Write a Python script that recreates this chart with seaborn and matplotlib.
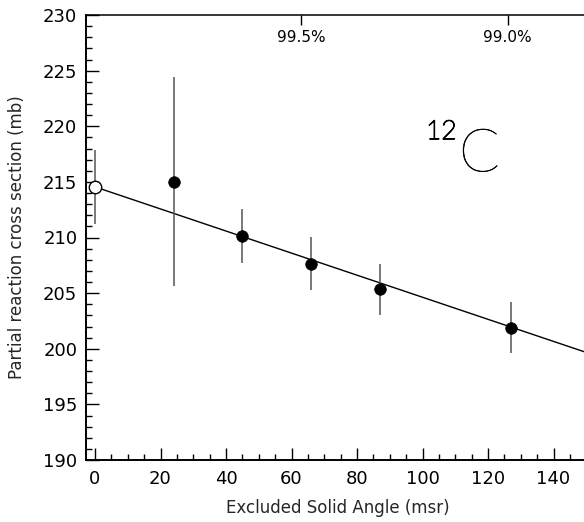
import matplotlib
matplotlib.use("Agg")
import matplotlib.pyplot as plt
import matplotlib.patheffects as pe
from matplotlib.ticker import MultipleLocator
import seaborn as sns
import pandas as pd

# ---- data ----
angle = [24, 45, 66, 87, 127]                  # excluded solid angle (msr)
sigma = [215.0, 210.15, 207.65, 205.35, 201.9]  # partial reaction cross section (mb)
sigma_err = [9.4, 2.4, 2.4, 2.3, 2.3]

extrap_angle = [0]
extrap_sigma = [214.55]
extrap_err = [3.3]

fit_angle = [0, 151]
fit_sigma = [214.55, 199.57]

top_tick_pos = [63, 126]
top_tick_labels = ["99.5%", "99.0%"]

x_ticks = [0, 20, 40, 60, 80, 100, 120, 140]
y_ticks = [190, 195, 200, 205, 210, 215, 220, 225, 230]

sns.set_style("ticks")
plt.rcParams["font.family"] = ["DejaVu Sans"]

df = pd.DataFrame({"angle": angle, "sigma": sigma, "err": sigma_err})
df_fit = pd.DataFrame({"angle": fit_angle, "sigma": fit_sigma})
df_ex = pd.DataFrame({"angle": extrap_angle, "sigma": extrap_sigma, "err": extrap_err})

W, H = 584, 522
fig = plt.figure(figsize=(W / 100, H / 100), dpi=100)
left_px, right_px, top_px, bot_px = 85.7, 590, 15, 460
ax = fig.add_axes([left_px / W, (H - bot_px) / H, (right_px - left_px) / W, (bot_px - top_px) / H])

# fit line
sns.lineplot(data=df_fit, x="angle", y="sigma", ax=ax, color="black", lw=1.0, zorder=2)

# error bars
ax.errorbar(df["angle"], df["sigma"], yerr=df["err"], fmt="none", ecolor="#555555",
            elinewidth=1.1, capsize=0, zorder=3)
ax.errorbar(df_ex["angle"], df_ex["sigma"], yerr=df_ex["err"], fmt="none", ecolor="#555555",
            elinewidth=1.1, capsize=0, zorder=3)

# points
sns.scatterplot(data=df, x="angle", y="sigma", ax=ax, color="black", s=70,
                edgecolor="black", linewidth=0.5, zorder=4)
sns.scatterplot(data=df_ex, x="angle", y="sigma", ax=ax, color="white", s=80,
                edgecolor="black", linewidth=1.0, zorder=4)

xmin = (left_px - 95) / 3.275
xmax = (right_px - 95) / 3.275
ax.set_xlim(xmin, xmax)
ax.set_ylim(190, 230)
ax.set_xticks(x_ticks)
ax.set_yticks(y_ticks)
ax.xaxis.set_minor_locator(MultipleLocator(5))
ax.yaxis.set_minor_locator(MultipleLocator(1))
ax.tick_params(which="major", direction="in", length=9, width=1.0, labelsize=13,
               color="black", labelcolor="black")
ax.tick_params(axis="x", which="major", pad=7)
ax.tick_params(axis="y", which="major", pad=6)
ax.tick_params(which="minor", direction="in", length=4.3, width=1.0, color="black")
ax.tick_params(top=False, right=False, which="both")

for s in ["left", "bottom", "top"]:
    ax.spines[s].set_visible(True)
    ax.spines[s].set_color("black")
ax.spines["left"].set_linewidth(1.4)
ax.spines["bottom"].set_linewidth(1.4)
ax.spines["top"].set_linewidth(1.1)
ax.spines["right"].set_visible(False)

ax.set_xlabel("Excluded Solid Angle (msr)", fontsize=12, labelpad=8)
ax.set_ylabel("Partial reaction cross section (mb)", fontsize=12, labelpad=12)

# top axis ticks (percentages)
ax2 = ax.twiny()
ax2.set_xlim(ax.get_xlim())
ax2.set_xticks(top_tick_pos)
ax2.set_xticklabels(["", ""])
ax2.tick_params(axis="x", direction="in", length=7, width=1.0, color="black")
for s in ["left", "bottom", "right", "top"]:
    ax2.spines[s].set_visible(False)
ax2.set_ylim(190, 230)
for xpos, lab in zip(top_tick_pos, top_tick_labels):
    ax.text(xpos, 1 - 23 / (bot_px - top_px), lab, transform=ax.get_xaxis_transform(),
            ha="center", va="center", fontsize=11, color="black")

# 12C annotation (figure-pixel placement)
fig.text(426 / W, 1 - 132 / H, "12", fontsize=19, ha="left", va="center",
         family=["Lato", "DejaVu Sans"], fontweight="light", color="black",
         path_effects=[pe.withStroke(linewidth=0.9, foreground="black")])
fig.text(459 / W, 1 - 155 / H, "C", fontsize=43, ha="left", va="center",
         family=["Lato", "DejaVu Sans"], fontweight="light", color="black",
         path_effects=[pe.withStroke(linewidth=0.4, foreground="black")])

fig.savefig("out.png", dpi=100)
